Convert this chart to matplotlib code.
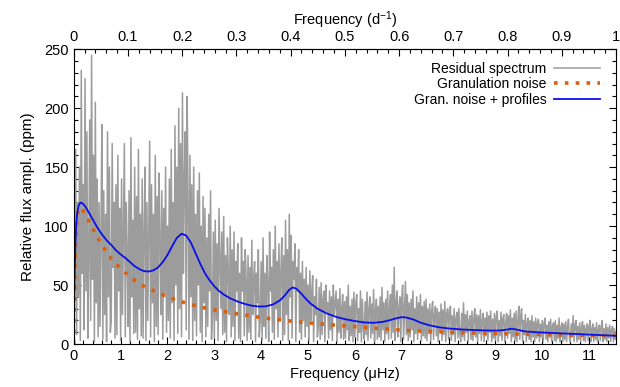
#!/usr/bin/env python3
"""Residual amplitude spectrum with granulation-noise fit and fitted profiles."""
import matplotlib

matplotlib.use("Agg")
import matplotlib.pyplot as plt  # noqa: E402
import numpy as np  # noqa: E402

plt.rcParams["font.family"] = ["Liberation Sans", "DejaVu Sans"]
plt.rcParams["mathtext.fontset"] = "custom"
plt.rcParams["mathtext.rm"] = "Liberation Sans"
plt.rcParams["mathtext.it"] = "Liberation Sans"

UHZ_POR_DIA = 11.574          # 1 d^-1 expresado en microHz
PASO = 0.02                   # resolución (µHz) de la tabla de espectro leída

# ---- espectro residual (ppm), un valor cada 0.02 µHz desde 0 ----
espectro = [
    # 0.00-0.48
    30, 95, 165, 8, 120, 40, 150, 3, 232, 60, 135, 12, 225, 45, 180, 5,
    70, 190, 20, 245, 55, 160, 2, 205, 35,
    # 0.50-0.98
    140, 6, 120, 15, 95, 186, 4, 130, 25, 110, 2, 180, 40, 150, 10, 20,
    170, 65, 120, 5, 135, 8, 160, 45, 115,
    # 1.00-1.48
    3, 140, 25, 100, 170, 6, 120, 80, 15, 130, 2, 175, 40, 105, 9, 150,
    10, 125, 4, 165, 30, 110, 7, 140, 5,
    # 1.50-1.98
    95, 150, 3, 120, 20, 100, 172, 6, 135, 35, 110, 2, 160, 15, 125, 8,
    145, 90, 25, 130, 4, 115, 40, 150, 10,
    # 2.00-2.48
    100, 20, 140, 5, 165, 35, 120, 3, 185, 50, 150, 9, 200, 30, 170, 6,
    213, 60, 140, 180, 12, 210, 120, 4, 160,
    # 2.50-2.98
    40, 135, 3, 150, 20, 110, 7, 130, 50, 145, 10, 100, 2, 125, 35, 115,
    6, 90, 15, 110, 45, 130, 4, 25, 95,
    # 3.00-3.48
    5, 105, 20, 85, 3, 115, 70, 30, 95, 8, 108, 10, 75, 2, 90, 60,
    25, 100, 6, 80, 15, 95, 3, 70, 45,
    # 3.50-3.98
    85, 5, 60, 2, 90, 45, 70, 7, 80, 55, 3, 75, 10, 65, 4, 88,
    25, 55, 70, 2, 60, 35, 80, 6, 20,
    # 4.00-4.48
    70, 3, 90, 15, 60, 5, 75, 50, 2, 95, 45, 65, 10, 80, 4, 100,
    30, 70, 6, 85, 20, 60, 90, 3, 75,
    # 4.50-4.98
    8, 105, 25, 80, 3, 110, 40, 92, 5, 70, 55, 85, 2, 65, 45, 80,
    10, 60, 4, 70, 20, 55, 6, 65, 15,
    # 5.00-5.48
    50, 3, 62, 20, 45, 58, 2, 40, 25, 55, 6, 15, 48, 4, 52, 8,
    38, 45, 2, 50, 28, 35, 5, 45, 12,
    # 5.50-5.98
    40, 3, 50, 25, 35, 45, 2, 38, 10, 47, 5, 30, 42, 4, 36, 5,
    40, 12, 50, 3, 32, 7, 38, 2, 44,
    # 6.00-6.48
    6, 35, 42, 3, 30, 10, 45, 2, 38, 14, 4, 36, 8, 44, 3, 30,
    40, 5, 34, 9, 46, 2, 28, 38, 4,
    # 6.50-6.98
    32, 6, 40, 3, 48, 12, 35, 2, 38, 9, 45, 4, 30, 42, 5, 50,
    10, 65, 3, 36, 45, 6, 30, 40, 2,
    # 7.00-7.48
    38, 50, 4, 30, 53, 8, 42, 3, 35, 6, 38, 12, 45, 2, 30, 9,
    40, 4, 35, 11, 42, 3, 32, 7, 36,
    # 7.50-7.98
    5, 38, 3, 30, 9, 34, 2, 28, 36, 4, 25, 32, 7, 30, 2, 27,
    10, 34, 3, 29, 8, 36, 2, 26, 30,
    # 8.00-8.48
    4, 28, 32, 3, 24, 8, 30, 2, 22, 27, 5, 30, 9, 2, 26, 6,
    35, 3, 25, 10, 28, 2, 20, 24, 4,
    # 8.50-8.98
    28, 3, 22, 30, 6, 25, 2, 24, 9, 29, 3, 20, 26, 2, 22, 7,
    27, 3, 24, 10, 28, 2, 21, 5, 26,
    # 9.00-9.48
    3, 24, 28, 2, 20, 7, 27, 3, 22, 25, 2, 18, 26, 5, 24, 9,
    29, 2, 22, 6, 26, 3, 28, 2, 20,
    # 9.50-9.98
    32, 4, 24, 30, 2, 20, 8, 25, 2, 18, 22, 4, 20, 2, 24, 6,
    19, 2, 22, 5, 18, 21, 2, 17, 6,
    # 10.00-10.48
    20, 2, 18, 22, 4, 16, 2, 19, 6, 21, 2, 15, 18, 3, 20, 2,
    16, 5, 22, 2, 14, 18, 2, 17, 4,
    # 10.50-10.98
    19, 2, 15, 21, 5, 2, 17, 6, 24, 2, 16, 20, 2, 15, 4, 18,
    2, 14, 19, 3, 16, 2, 13, 17, 3,
    # 11.00-11.56
    15, 20, 2, 13, 17, 2, 14, 4, 18, 2, 12, 16, 3, 15, 20, 2,
    13, 4, 17, 2, 14, 5, 16, 2, 12, 15, 2, 13, 4,
]

# ---- ruido de granulación (curva ajustada) ----
gran_f = [0, 0.01, 0.02, 0.035, 0.05, 0.07, 0.1, 0.14, 0.2, 0.3,
          0.4, 0.5, 0.6, 0.7, 0.8, 0.9, 1.0, 1.2, 1.4, 1.6,
          1.8, 2.0, 2.25, 2.5, 2.75, 3.0, 3.5, 4.0, 4.5, 5.0,
          5.5, 6.0, 6.5, 7.0, 7.5, 8.0, 8.5, 9.0, 9.5, 10.0,
          10.5, 11.0, 11.574]
gran_a = [0, 33, 58, 82, 97, 107, 114, 116, 113, 106,
          98, 91, 84, 78, 72.5, 68, 64, 57, 51, 47,
          43.5, 40, 36.5, 33.5, 31, 29, 25.5, 22.5, 20, 18,
          16.3, 14.8, 13.2, 11.8, 10.8, 10.0, 9.4, 8.9, 8.4, 8.0,
          7.6, 7.3, 7.0]

# ---- ruido + perfiles lorentzianos ----
perf_f = [0, 0.01, 0.02, 0.035, 0.05, 0.07, 0.1, 0.14, 0.18, 0.24,
          0.3, 0.4, 0.5, 0.6, 0.7, 0.8, 0.9, 1.0, 1.1, 1.2,
          1.3, 1.4, 1.5, 1.6, 1.7, 1.8, 1.9, 2.0, 2.1, 2.2,
          2.3, 2.4, 2.5, 2.6, 2.7, 2.8, 2.9, 3.0, 3.1, 3.2,
          3.35, 3.5, 3.65, 3.8, 3.95, 4.1, 4.25, 4.4, 4.5, 4.6,
          4.67, 4.75, 4.85, 4.95, 5.05, 5.2, 5.4, 5.6, 5.8, 6.0,
          6.2, 6.4, 6.6, 6.75, 6.9, 7.0, 7.1, 7.25, 7.4, 7.6,
          7.8, 8.0, 8.3, 8.6, 8.9, 9.1, 9.25, 9.35, 9.45, 9.6,
          9.8, 10.1, 10.5, 11.0, 11.574]
perf_a = [0, 35, 60, 85, 100, 110, 117, 120, 119.5, 117,
          113, 106, 99, 93, 88, 84, 79.5, 76, 73, 69.5,
          66, 63.5, 61.8, 61.5, 62.5, 65, 69.5, 75.5, 83, 90,
          93.5, 92, 86, 77, 68, 60, 54, 49, 45, 42,
          38.5, 36, 34, 32.5, 31.8, 32, 33.5, 37, 41, 46,
          48, 47, 43, 38.5, 34.5, 30, 26, 23, 21, 19.5,
          18.3, 18, 18.8, 20.3, 22, 22.8, 22.5, 20.8, 18.2, 15.8,
          14.2, 13.2, 12.3, 11.8, 11.4, 11.5, 12.3, 13, 12.3, 10.9,
          10.2, 9.6, 8.9, 8, 7]

frec = np.arange(len(espectro)) * PASO

fig = plt.figure(figsize=(6.2, 3.87), dpi=100)
ax = fig.add_axes([0.119, 0.111, 0.8745, 0.762])

ax.plot(frec, espectro, color="#9c9c9c", lw=1.1, label="Residual spectrum")
ax.plot(gran_f, gran_a, color="#d9600f", lw=2.6, ls=(0, (1.0, 2.0)),
        label="Granulation noise")
ax.plot(perf_f, perf_a, color="#0a10e8", lw=1.3, label="Gran. noise + profiles")

ax.set_xlim(0, UHZ_POR_DIA)
ax.set_ylim(0, 250)
ax.set_xticks(range(0, 12))
ax.set_xticks(np.arange(0, 11.6, 0.2), minor=True)
ax.set_yticks(range(0, 251, 50))
ax.set_yticks(range(0, 251, 10), minor=True)
ax.tick_params(which="both", direction="in", top=False, right=True,
               labelsize=10.5)
ax.tick_params(which="major", length=5, width=0.8)
ax.tick_params(which="minor", length=3, width=0.8)
ax.set_xlabel("Frequency (μHz)", fontsize=10.5, labelpad=3)
ax.set_ylabel("Relative flux ampl. (ppm)", fontsize=11, labelpad=7)

arriba = ax.secondary_xaxis("top", functions=(lambda f: f / UHZ_POR_DIA,
                                              lambda d: d * UHZ_POR_DIA))
arriba.set_xticks(np.arange(0, 1.01, 0.1))
arriba.set_xticklabels(["0", "0.1", "0.2", "0.3", "0.4", "0.5", "0.6",
                        "0.7", "0.8", "0.9", "1"])
arriba.set_xticks(np.arange(0, 1.001, 0.02), minor=True)
arriba.tick_params(which="both", direction="in", labelsize=10.5)
arriba.tick_params(which="major", length=5, width=0.8)
arriba.tick_params(which="minor", length=3, width=0.8)
arriba.set_xlabel("Frequency (d$^{-1}$)", fontsize=10.5, labelpad=4)

ax.legend(loc="upper right", bbox_to_anchor=(0.985, 0.985), frameon=False,
          markerfirst=False, fontsize=10, handlelength=3.3, labelspacing=0.1,
          handletextpad=0.5, borderaxespad=0.2)

fig.savefig("out.png", dpi=100)
